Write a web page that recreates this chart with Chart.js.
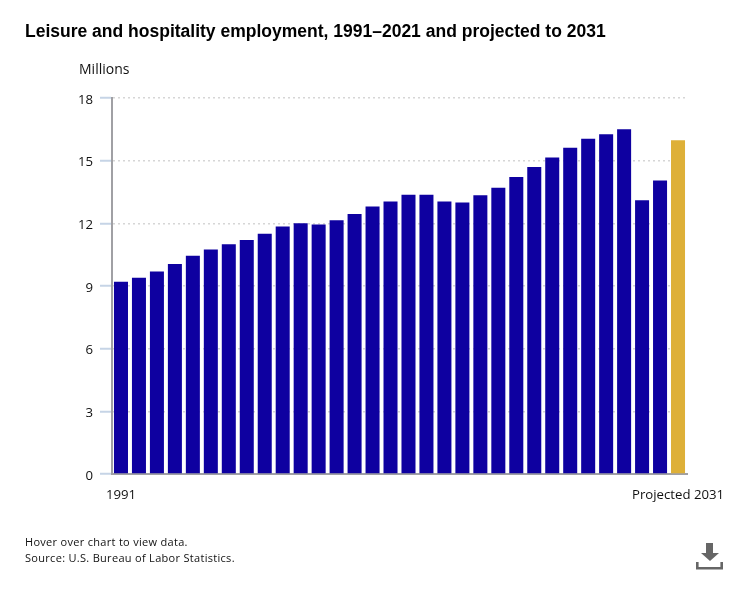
<!DOCTYPE html>
<html>
<head>
<meta charset="utf-8">
<title>Leisure and hospitality employment</title>
<script src="https://cdn.jsdelivr.net/npm/chart.js@4"></script>
<style>
  html, body { margin: 0; padding: 0; background: #fff; }
  #wrap { position: relative; width: 748px; height: 595px; overflow: hidden; }
  #wrap div { position: absolute; white-space: nowrap; color: #000; }
  #title { left: 25px; top: 21px; font: bold 17.5px 'Liberation Sans', Arial, sans-serif; }
  #unit { left: 79px; top: 59px; font: 14px 'Open Sans', sans-serif; color: #111 !important; }
  #note { left: 25px; top: 534px; font: 11px/16px 'Open Sans', sans-serif; letter-spacing: .3px; color: #111 !important; }
  svg { position: absolute; left: 696px; top: 543px; }
</style>
</head>
<body>
<div id="wrap">
  <canvas id="chart" width="748" height="595"></canvas>
  <div id="title">Leisure and hospitality employment, 1991–2021 and projected to 2031</div>
  <div id="unit">Millions</div>
  <div id="note">Hover over chart to view data.<br>Source: U.S. Bureau of Labor Statistics.</div>
  <svg width="27" height="27" viewBox="0 0 27 27">
    <path d="M10 0h7v10h6L14 18 5 10h5z" fill="#666"/>
    <path d="M1.300 19v6.300h24.400v-6.300" fill="none" stroke="#666" stroke-width="2.600"/>
  </svg>
</div>
<script>
const years = ['1991','1992','1993','1994','1995','1996','1997','1998','1999','2000','2001',
  '2002','2003','2004','2005','2006','2007','2008','2009','2010','2011','2012','2013','2014',
  '2015','2016','2017','2018','2019','2020','2021','Projected 2031'];
const employment = [9.2, 9.4, 9.7, 10.05, 10.45, 10.75, 11.0, 11.2, 11.5, 11.85, 12.0,
  11.95, 12.15, 12.45, 12.8, 13.05, 13.37, 13.37, 13.05, 13.0, 13.35, 13.7, 14.22, 14.7,
  15.15, 15.62, 16.05, 16.27, 16.5, 13.1, 14.05, 15.98];
const yTicks = [0, 3, 6, 9, 12, 15, 18];

const BLUE = '#0e00a0';
const GOLD = '#deb038';
const tickFont = { family: 'Open Sans', size: 13.2 };

new Chart(document.getElementById('chart'), {
  type: 'bar',
  data: {
    labels: years,
    datasets: [{
      data: employment,
      backgroundColor: years.map((y, i) => i === years.length - 1 ? GOLD : BLUE),
      barPercentage: 0.78,
      categoryPercentage: 1,
    }],
  },
  options: {
    responsive: false,
    animation: false,
    layout: { padding: { top: 98, right: 61, left: 0, bottom: 0 } },
    plugins: { legend: { display: false }, title: { display: false } },
    scales: {
      x: {
        grid: { display: false },
        border: { color: '#a0a0a4', width: 2 },
        afterFit: s => { s.height = 121; },
        ticks: {
          color: '#111',
          font: tickFont,
          autoSkip: false,
          maxRotation: 0,
          padding: 5,
          callback(v, i) {
            return i === 0 || i === years.length - 1 ? years[i] : '';
          },
        },
      },
      y: {
        min: 0,
        max: 18,
        afterFit: s => { s.width = 112; },
        afterBuildTicks: s => { s.ticks = yTicks.map(v => ({ value: v })); },
        grid: {
          color: '#d6d6d6',
          lineWidth: 1.5,
          tickColor: '#c6d4e6',
          tickWidth: 2,
          tickLength: 12,
        },
        border: { color: '#a0a0a4', width: 2, dash: [2, 3] },
        ticks: { color: '#111', font: tickFont, padding: 7, labelOffset: 2 },
      },
    },
  },
});
</script>
</body>
</html>
